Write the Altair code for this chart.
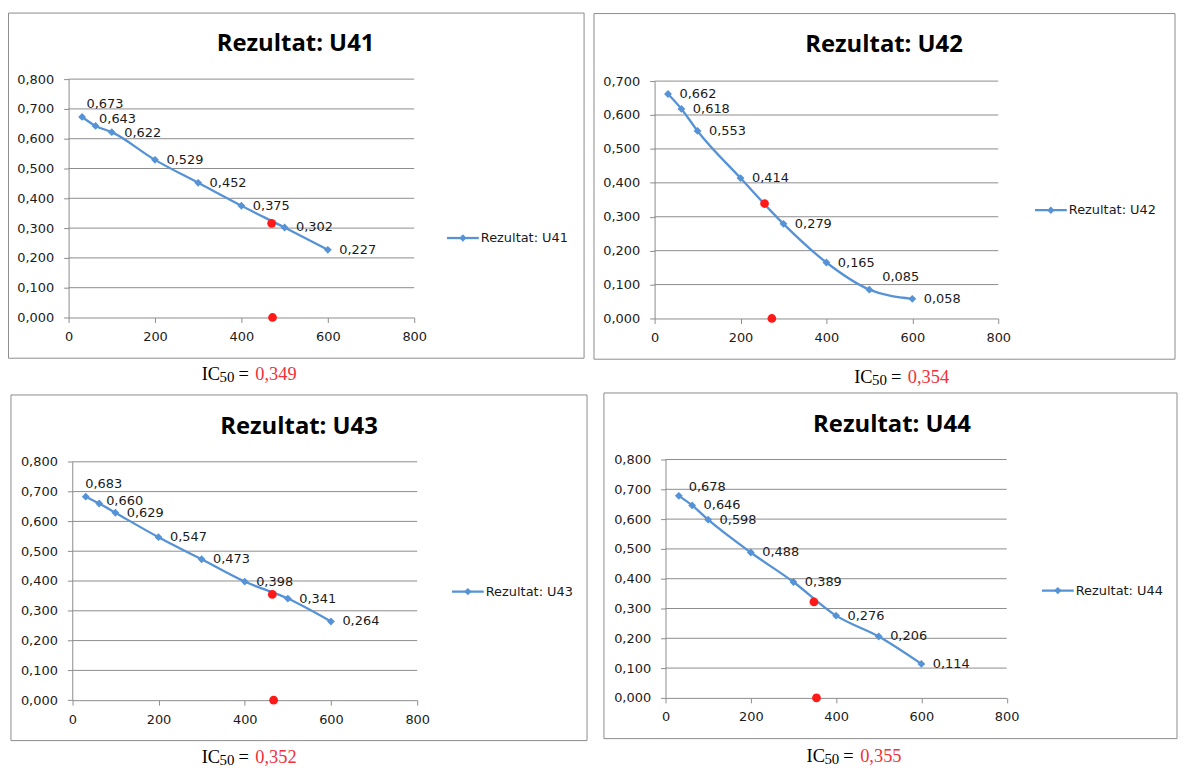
import altair as alt
import pandas as pd

# ---------------- data ----------------
CONC = [31.25, 62.5, 100, 200, 300, 400, 500, 600]
NAMES = ["U41", "U42", "U43", "U44"]
U41 = [0.673, 0.643, 0.622, 0.529, 0.452, 0.375, 0.302, 0.227]
U42 = [0.662, 0.618, 0.553, 0.414, 0.279, 0.165, 0.085, 0.058]
U43 = [0.683, 0.660, 0.629, 0.547, 0.473, 0.398, 0.341, 0.264]
U44 = [0.678, 0.646, 0.598, 0.488, 0.389, 0.276, 0.206, 0.114]
SERIES = [U41, U42, U43, U44]
IC50_TEXT = ["0,349", "0,354", "0,352", "0,355"]
IC_MARK_X = [470, 256, 464, 348]
IC_MARK_Y = [0.316, 0.339, 0.355, 0.322]
IC_BASE_X = [472, 273, 467, 354]
Y_MAX = [0.8, 0.7, 0.8, 0.8]
Y_TICKS_08 = [0.0, 0.1, 0.2, 0.3, 0.4, 0.5, 0.6, 0.7, 0.8]
Y_TICKS_07 = [0.0, 0.1, 0.2, 0.3, 0.4, 0.5, 0.6, 0.7]
Y_TICKS = [Y_TICKS_08, Y_TICKS_07, Y_TICKS_08, Y_TICKS_08]
X_TICKS = [0, 200, 400, 600, 800]

# ---------------- layout / style ----------------
W, H = 1179, 762
LAYOUT = [
    dict(x0=61, x1=409, yb=309, yt=69, box=(0.5, 2.5, 580, 350),
         tx=289.5, ty=41, lx=442, ly=229, cx=195, cy=372,
         exc={0: (4.5, -13), 1: (3.5, -6.5), 2: (12.5, 1)}),
    dict(x0=651, x1=997, yb=310, yt=71, box=(590, 3, 1175, 351),
         tx=882, ty=42, lx=1034, ly=201, cx=852, cy=375,
         exc={6: (13, -13)}),
    dict(x0=64.7, x1=412, yb=694.3, yt=454.3, box=(3, 387, 583, 735),
         tx=293, ty=426, lx=447, ly=585, cx=195, cy=758,
         exc={0: (-0.5, -12.5), 1: (7, -3)}),
    dict(x0=662, x1=1005.5, yb=692, yt=452, box=(600, 385, 1177, 733),
         tx=890, ty=424, lx=1041, ly=584, cx=804, cy=757,
         exc={0: (10, -9)}),
]
BLUE = "#5592d6"
RED = "#ff1a1a"
CAP_RED = "#f0303a"
GRID = "#8c8c8c"
BOX = "#8c8c8c"
LFONT = "DejaVu Sans"
LSIZE = 13
ONE = pd.DataFrame({"k": [0]})


def fmt(v):
    return f"{v:.3f}".replace(".", ",")


def txt(s, x, y, **kw):
    return alt.Chart(ONE).mark_text(**kw).encode(
        x=alt.value(x), y=alt.value(y), text=alt.value(s))


def panel(k):
    L = LAYOUT[k]
    xs = alt.Scale(domain=[0, 800], range=[L["x0"], L["x1"]], nice=False, zero=False)
    ys = alt.Scale(domain=[0, Y_MAX[k]], range=[L["yb"], L["yt"]], nice=False, zero=False)
    common = dict(grid=False, title=None, domainColor=GRID, tickColor=GRID,
                  tickSize=5, labelFont=LFONT, labelFontSize=LSIZE,
                  labelColor="#1a1a1a", labelOverlap=False)
    xaxis = alt.Axis(orient="bottom", offset=L["yb"] - H, values=X_TICKS,
                     labelPadding=8, labelFlush=False, **common)
    yaxis = alt.Axis(orient="left", offset=-L["x0"], values=Y_TICKS[k],
                     labelPadding=10,
                     labelExpr="replace(format(datum.value, '.3f'), '.', ',')",
                     **common)

    def X(f):
        return alt.X(f, scale=xs, axis=xaxis)

    def Y(f):
        return alt.Y(f, scale=ys, axis=yaxis)

    df = pd.DataFrame({"conc": CONC, "od": SERIES[k], "i": list(range(len(CONC))),
                       "lbl": [fmt(v) for v in SERIES[k]]})
    gdf = pd.DataFrame({"gy": Y_TICKS[k][1:], "gx0": X_TICKS[0], "gx1": X_TICKS[-1]})
    rdf = pd.DataFrame({"conc": [IC_MARK_X[k], IC_BASE_X[k]], "od": [IC_MARK_Y[k], 0.0]})

    bx0, by0, bx1, by1 = L["box"]
    box = alt.Chart(ONE).mark_rect(fillOpacity=0, stroke=BOX, strokeWidth=1).encode(
        x=alt.value(bx0), x2=alt.value(bx1), y=alt.value(by0), y2=alt.value(by1))

    grid = alt.Chart(gdf).mark_rule(color=GRID, strokeWidth=1).encode(
        x=X("gx0:Q"), x2="gx1:Q", y=Y("gy:Q"))

    line = alt.Chart(df).mark_line(color=BLUE, strokeWidth=2.3, interpolate="monotone").encode(
        x=X("conc:Q"), y=Y("od:Q"))

    pts = alt.Chart(df).mark_point(shape="diamond", filled=True, size=62,
                                   color=BLUE, opacity=1).encode(
        x=X("conc:Q"), y=Y("od:Q"))

    exc_ids = list(L["exc"].keys())
    label_kw = dict(align="left", baseline="middle", font=LFONT,
                    fontSize=LSIZE, color="#1a1a1a")
    labels = [
        alt.Chart(df).transform_filter(f"indexof({exc_ids}, datum.i) < 0")
        .mark_text(dx=11.5, dy=0, **label_kw).encode(
            x=X("conc:Q"), y=Y("od:Q"), text="lbl:N")
    ]
    for idx, (ddx, ddy) in L["exc"].items():
        labels.append(
            alt.Chart(df).transform_filter(f"datum.i == {idx}")
            .mark_text(dx=ddx, dy=ddy, **label_kw).encode(
                x=X("conc:Q"), y=Y("od:Q"), text="lbl:N"))

    red = alt.Chart(rdf).mark_circle(color=RED, size=78, opacity=1).encode(
        x=X("conc:Q"), y=Y("od:Q"))

    name = "Rezultat: " + NAMES[k]
    title = txt(name, L["tx"], L["ty"], font="Open Sans", fontSize=24,
                fontWeight="bold", align="center", baseline="alphabetic", color="#000000")

    lx, ly = L["lx"], L["ly"]
    leg_line = alt.Chart(ONE).mark_rule(color=BLUE, strokeWidth=2.3).encode(
        x=alt.value(lx), x2=alt.value(lx + 32), y=alt.value(ly))
    leg_pt = alt.Chart(ONE).mark_point(shape="diamond", filled=True, size=55,
                                       color=BLUE, opacity=1).encode(
        x=alt.value(lx + 16), y=alt.value(ly))
    leg_txt = txt(name, lx + 34, ly, font=LFONT, fontSize=LSIZE, align="left",
                  baseline="middle", color="#1a1a1a")

    cx, cy = L["cx"], L["cy"]
    serif = "Liberation Serif"
    cap = [
        txt("IC", cx, cy, font=serif, fontSize=18.5, align="left",
            baseline="alphabetic", color="#000000"),
        txt("50", cx + 18, cy + 2, font=serif, fontSize=15, align="left",
            baseline="alphabetic", color="#000000"),
        txt("=", cx + 37, cy, font=serif, fontSize=18.5, align="left",
            baseline="alphabetic", color="#000000"),
        txt(IC50_TEXT[k], cx + 54, cy, font=serif, fontSize=18.5, align="left",
            baseline="alphabetic", color=CAP_RED),
    ]

    return alt.layer(box, grid, line, pts, *labels, red, title,
                     leg_line, leg_pt, leg_txt, *cap)


chart = (
    alt.layer(*[panel(k) for k in range(4)])
    .resolve_scale(x="independent", y="independent")
    .properties(width=W, height=H, padding=0,
                autosize=alt.AutoSizeParams(type="none"))
    .configure_view(strokeWidth=0)
)

chart.save("out.html", embed_options={"renderer": "svg", "actions": False})
